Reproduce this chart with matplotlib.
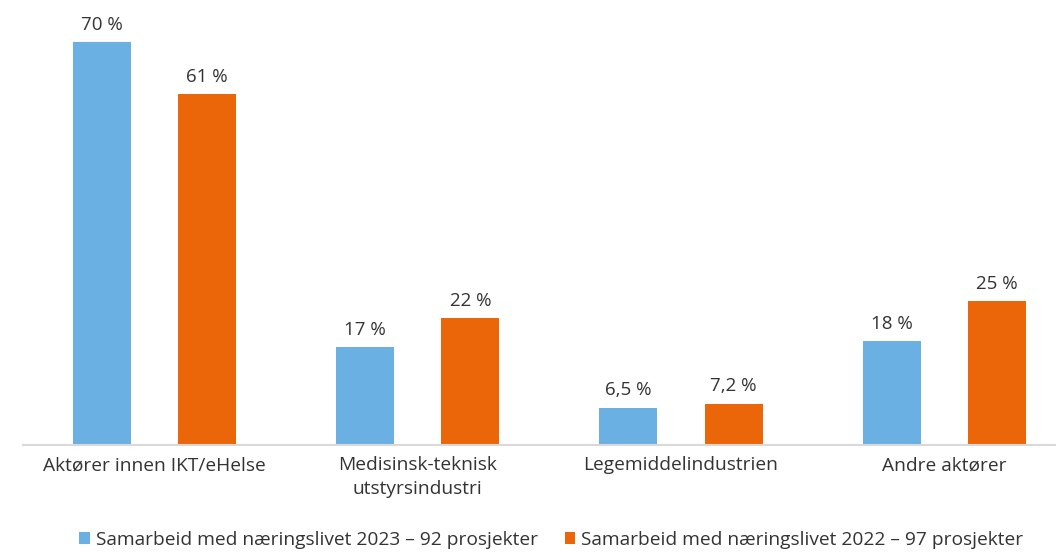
import numpy as np
import matplotlib.pyplot as plt

plt.rcParams['font.family'] = ['Open Sans', 'DejaVu Sans']

categories = ['Aktører innen IKT/eHelse', 'Medisinsk-teknisk\nutstyrsindustri',
              'Legemiddelindustrien', 'Andre aktører']
vals_2023 = [70, 17, 6.5, 18]
vals_2022 = [61, 22, 7.2, 25]
labels_2023 = ['70 %', '17 %', '6,5 %', '18 %']
labels_2022 = ['61 %', '22 %', '7,2 %', '25 %']
series_names = ['Samarbeid med næringslivet 2023 – 92 prosjekter',
                'Samarbeid med næringslivet 2022 – 97 prosjekter']

blue = '#6AB0E2'
orange = '#EB6608'
txt = '#333333'

fig = plt.figure(figsize=(10.56, 5.52), dpi=100)
ax = fig.add_axes([0.0216, 0.1938, 0.9784, 0.782])

x = np.arange(len(categories))
w = 0.22
b1 = ax.bar(x - 0.2, vals_2023, w, color=blue, label=series_names[0])
b2 = ax.bar(x + 0.2, vals_2022, w, color=orange, label=series_names[1])

for bars, labs in ((b1, labels_2023), (b2, labels_2022)):
    for bar, lab in zip(bars, labs):
        ax.annotate(lab, (bar.get_x() + bar.get_width() / 2, bar.get_height()),
                    xytext=(0, 6), textcoords='offset points',
                    ha='center', va='bottom', fontsize=13.5, color=txt)

ax.set_xlim(-0.5, 3.424)
ax.set_ylim(0, 75)
ax.set_yticks([])
ax.set_xticks(x)
ax.set_xticklabels(categories, fontsize=13.8, color=txt, linespacing=1.45)
ax.tick_params(axis='x', length=0, pad=8)
for s in ['top', 'right', 'left']:
    ax.spines[s].set_visible(False)
ax.spines['bottom'].set_color('#d9d9d9')
ax.spines['bottom'].set_linewidth(1.5)

fig.legend(loc='lower center', bbox_to_anchor=(0.522, -0.025), ncol=2, frameon=False,
           fontsize=13.8, handlelength=0.55, handleheight=0.55, handletextpad=0.3,
           columnspacing=1.4, labelcolor=txt)

fig.savefig('out.png', dpi=100)
